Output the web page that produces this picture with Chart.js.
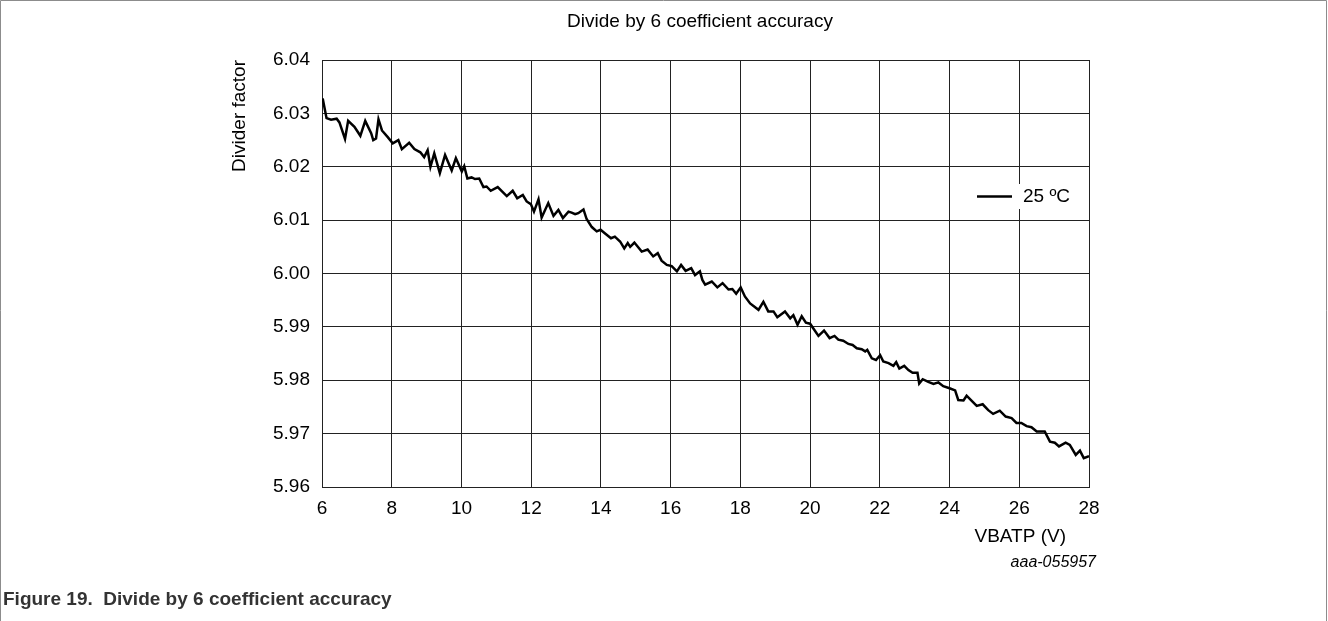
<!DOCTYPE html>
<html>
<head>
<meta charset="utf-8">
<script src="https://cdn.jsdelivr.net/npm/chart.js@4/dist/chart.umd.min.js"></script>
<style>
  html, body { margin: 0; padding: 0; background: #fff; }
  #wrap { width: 1328px; height: 621px; position: relative; }
</style>
</head>
<body>
<div id="wrap"><canvas id="dividerChart" width="1328" height="621"></canvas></div>
<script>
// VBATP (V) sample points
var vbatp = [
  6.02, 6.13, 6.26, 6.42, 6.50, 6.66, 6.75, 6.93, 7.10, 7.24, 7.41, 7.47, 7.55, 7.62, 7.72, 7.88,
  8.03, 8.19, 8.29, 8.50, 8.65, 8.82, 8.93, 9.03, 9.11, 9.22, 9.38, 9.53, 9.72, 9.84,
  10.01, 10.08, 10.17, 10.29, 10.39, 10.51, 10.63, 10.72, 10.84, 11.04, 11.30, 11.47, 11.60, 11.76, 11.87, 11.99,
  12.08, 12.21, 12.30, 12.49, 12.64, 12.78, 12.91, 13.07, 13.16, 13.26, 13.35, 13.50, 13.59, 13.74, 13.88, 13.99,
  14.12, 14.29, 14.40, 14.55, 14.67, 14.77, 14.84, 14.96, 15.17, 15.34, 15.50, 15.63, 15.74, 15.89,
  16.03, 16.18, 16.30, 16.43, 16.59, 16.70, 16.84, 16.91, 16.99, 17.18, 17.34, 17.49, 17.66, 17.77, 17.88,
  18.01, 18.13, 18.28, 18.52, 18.66, 18.80, 18.95, 19.06, 19.28, 19.43, 19.52, 19.64, 19.76, 19.88,
  20.00, 20.24, 20.40, 20.56, 20.70, 20.81, 20.95, 21.10, 21.22, 21.34, 21.48, 21.58, 21.64, 21.77, 21.89,
  22.01, 22.10, 22.25, 22.39, 22.47, 22.56, 22.70, 22.82, 22.94, 23.08, 23.13, 23.23, 23.39, 23.54, 23.68, 23.82,
  24.00, 24.16, 24.25, 24.40, 24.49, 24.63, 24.78, 24.95, 25.11, 25.25, 25.44, 25.61, 25.78, 25.92,
  26.06, 26.21, 26.35, 26.50, 26.73, 26.88, 27.02, 27.14, 27.33, 27.45, 27.62, 27.74, 27.85, 28.00
];

// Divider factor at 25 °C
var divider = [
  6.0328, 6.0291, 6.0288, 6.0290, 6.0283, 6.0252, 6.0286, 6.0275, 6.0258, 6.0286, 6.0263, 6.0250, 6.0253, 6.0289, 6.0268, 6.0256,
  6.0244, 6.0250, 6.0233, 6.0245, 6.0233, 6.0227, 6.0218, 6.0231, 6.0200, 6.0225, 6.0188, 6.0222, 6.0193, 6.0216,
  6.0191, 6.0201, 6.0178, 6.0180, 6.0177, 6.0178, 6.0162, 6.0163, 6.0155, 6.0162, 6.0145, 6.0155, 6.0141, 6.0147, 6.0135, 6.0130,
  6.0116, 6.0139, 6.0105, 6.0132, 6.0108, 6.0119, 6.0104, 6.0116, 6.0114, 6.0111, 6.0113, 6.0120, 6.0102, 6.0087, 6.0079, 6.0082,
  6.0075, 6.0066, 6.0069, 6.0060, 6.0047, 6.0057, 6.0050, 6.0058, 6.0041, 6.0045, 6.0032, 6.0038, 6.0024, 6.0016,
  6.0014, 6.0004, 6.0016, 6.0005, 6.0010, 5.9997, 6.0004, 5.9988, 5.9979, 5.9985, 5.9974, 5.9982, 5.9970, 5.9971, 5.9962,
  5.9974, 5.9957, 5.9944, 5.9932, 5.9947, 5.9929, 5.9929, 5.9918, 5.9929, 5.9916, 5.9922, 5.9904, 5.9920, 5.9908,
  5.9906, 5.9883, 5.9893, 5.9879, 5.9883, 5.9876, 5.9874, 5.9868, 5.9866, 5.9860, 5.9858, 5.9854, 5.9857, 5.9841, 5.9838,
  5.9847, 5.9835, 5.9832, 5.9827, 5.9834, 5.9822, 5.9827, 5.9819, 5.9814, 5.9814, 5.9794, 5.9802, 5.9797, 5.9793, 5.9796, 5.9789,
  5.9785, 5.9781, 5.9763, 5.9762, 5.9771, 5.9762, 5.9752, 5.9755, 5.9744, 5.9737, 5.9743, 5.9732, 5.9729, 5.9720,
  5.9720, 5.9714, 5.9712, 5.9704, 5.9704, 5.9685, 5.9683, 5.9676, 5.9683, 5.9679, 5.9660, 5.9668, 5.9654, 5.9658
];

var xTicks = [6, 8, 10, 12, 14, 16, 18, 20, 22, 24, 26, 28];
var yTicks = [5.96, 5.97, 5.98, 5.99, 6.00, 6.01, 6.02, 6.03, 6.04];
var seriesLabel = '25 ºC';

var points = vbatp.map(function (v, i) { return { x: v, y: divider[i] }; });

var FONT = "'Liberation Sans', Arial, sans-serif";

// extra texts, legend box and figure frame
var figureExtras = {
    id: 'figureExtras',
    beforeDraw: function (chart) {
        var ctx = chart.ctx;
        ctx.save();
        ctx.fillStyle = '#fff';
        ctx.fillRect(0, 0, chart.width, chart.height);
        ctx.strokeStyle = '#8c8c8c';
        ctx.lineWidth = 1;
        ctx.beginPath();
        ctx.moveTo(0.5, chart.height);
        ctx.lineTo(0.5, 0.5);
        ctx.lineTo(chart.width - 1.5, 0.5);
        ctx.lineTo(chart.width - 1.5, chart.height);
        ctx.stroke();
        ctx.restore();
    },
    afterDraw: function (chart) {
        var ctx = chart.ctx;
        var area = chart.chartArea;
        ctx.save();
        ctx.fillStyle = '#000';
        ctx.textBaseline = 'middle';

        // chart title
        ctx.font = '19px ' + FONT;
        ctx.textAlign = 'center';
        ctx.fillText('Divide by 6 coefficient accuracy', 700, 22);

        // legend inside the plot
        ctx.fillStyle = '#fff';
        ctx.fillRect(970, 184, 115, 25);
        ctx.strokeStyle = '#000';
        ctx.lineWidth = 2.5;
        ctx.beginPath();
        ctx.moveTo(977, 196.5);
        ctx.lineTo(1012, 196.5);
        ctx.stroke();
        ctx.fillStyle = '#000';
        ctx.textAlign = 'left';
        ctx.fillText(chart.data.datasets[0].label, 1023, 197);

        // x axis title
        ctx.textAlign = 'right';
        ctx.fillText('VBATP (V)', 1066, 537);

        // figure id
        ctx.font = 'italic 16px ' + FONT;
        ctx.fillText('aaa-055957', 1096, 563);

        // caption
        ctx.textAlign = 'left';
        ctx.fillStyle = '#333';
        ctx.font = 'bold 19px ' + FONT;
        ctx.fillText('Figure 19.  Divide by 6 coefficient accuracy', 3, 600);
        ctx.restore();
    }
};

var ctx = document.getElementById('dividerChart').getContext('2d');
var dividerChart = new Chart(ctx, {
    type: 'line',
    data: {
        datasets: [{
            label: seriesLabel,
            data: points,
            borderColor: '#000',
            borderWidth: 2.5,
            pointRadius: 0,
            tension: 0,
            fill: false
        }]
    },
    options: {
        responsive: false,
        animation: false,
        events: [],
        layout: {
            padding: { top: 60, left: 224, right: 239, bottom: 72 }
        },
        plugins: {
            legend: { display: false },
            tooltip: { enabled: false },
            title: { display: false }
        },
        scales: {
            x: {
                type: 'linear',
                min: xTicks[0],
                max: xTicks[xTicks.length - 1],
                afterBuildTicks: function (scale) {
                    scale.ticks = xTicks.map(function (v) { return { value: v }; });
                },
                afterFit: function (scale) { scale.height = 62; },
                grid: { color: '#222', lineWidth: 1, drawTicks: false },
                border: { color: '#222', width: 1 },
                ticks: {
                    color: '#000',
                    padding: 10,
                    maxRotation: 0,
                    font: { family: FONT, size: 19 },
                    callback: function (v) { return v; }
                }
            },
            y: {
                min: yTicks[0],
                max: yTicks[yTicks.length - 1],
                afterBuildTicks: function (scale) {
                    scale.ticks = yTicks.map(function (v) { return { value: v }; });
                },
                afterFit: function (scale) { scale.width = 98; },
                grid: { color: '#222', lineWidth: 1, drawTicks: false },
                border: { color: '#222', width: 1 },
                ticks: {
                    color: '#000',
                    padding: 12,
                    font: { family: FONT, size: 19 },
                    callback: function (v) { return Number(v).toFixed(2); }
                },
                title: {
                    display: true,
                    text: 'Divider factor',
                    align: 'end',
                    color: '#000',
                    font: { family: FONT, size: 19 },
                    padding: { top: 4, bottom: 0 }
                }
            }
        }
    },
    plugins: [figureExtras]
});
</script>
</body>
</html>
